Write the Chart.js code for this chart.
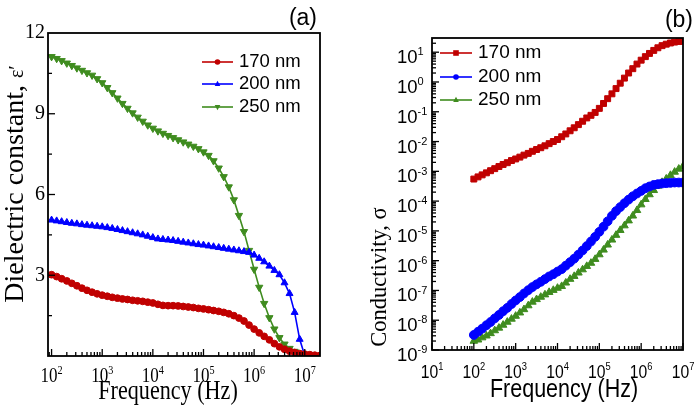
<!DOCTYPE html>
<html>
<head>
<meta charset="utf-8">
<script src="https://cdn.jsdelivr.net/npm/chart.js@4.4.1/dist/chart.umd.min.js"></script>
<style>
  html, body { margin: 0; padding: 0; background: #fff; }
  #wrap { position: relative; width: 700px; height: 409px; }
  canvas { position: absolute; top: 0; }
  #chartA { left: 0; }
  #chartB { left: 350px; }
</style>
</head>
<body>
<div id="wrap">
  <canvas id="chartA" width="350" height="409"></canvas>
  <canvas id="chartB" width="350" height="409"></canvas>
</div>
<script>
// measurement frequencies (Hz), 10 points per decade
const freq = [
  1e2, 1.26e2, 1.58e2, 2e2, 2.51e2, 3.16e2, 3.98e2, 5.01e2, 6.31e2, 7.94e2,
  1e3, 1.26e3, 1.58e3, 2e3, 2.51e3, 3.16e3, 3.98e3, 5.01e3, 6.31e3, 7.94e3,
  1e4, 1.26e4, 1.58e4, 2e4, 2.51e4, 3.16e4, 3.98e4, 5.01e4, 6.31e4, 7.94e4,
  1e5, 1.26e5, 1.58e5, 2e5, 2.51e5, 3.16e5, 3.98e5, 5.01e5, 6.31e5, 7.94e5,
  1e6, 1.26e6, 1.58e6, 2e6, 2.51e6, 3.16e6, 3.98e6, 5.01e6, 6.31e6, 7.94e6,
  1e7, 1.26e7, 1.58e7, 2e7
];

const seriesLabels = ['170 nm', '200 nm', '250 nm'];

// (a) dielectric constant
const eps170 = [
  3.02, 2.95, 2.87, 2.79, 2.70, 2.61, 2.52, 2.44, 2.37, 2.31,
  2.26, 2.22, 2.18, 2.15, 2.12, 2.10, 2.07, 2.05, 2.03, 2.00,
  1.97, 1.92, 1.88, 1.87, 1.87, 1.86, 1.84, 1.82, 1.80, 1.77,
  1.75, 1.72, 1.69, 1.66, 1.62, 1.57, 1.50, 1.41, 1.30, 1.15,
  1.00, 0.86, 0.73, 0.60, 0.46, 0.34, 0.25, 0.18, 0.13, 0.09,
  0.07, 0.05, 0.03, 0.02
];
const eps200 = [
  5.05, 5.02, 4.99, 4.96, 4.93, 4.91, 4.88, 4.86, 4.84, 4.82,
  4.80, 4.77, 4.74, 4.70, 4.66, 4.62, 4.58, 4.54, 4.50, 4.45,
  4.40, 4.35, 4.33, 4.31, 4.29, 4.26, 4.23, 4.20, 4.17, 4.14,
  4.12, 4.09, 4.06, 4.03, 4.00, 3.97, 3.94, 3.91, 3.88, 3.85,
  3.75, 3.63, 3.50, 3.34, 3.18, 3.02, 2.72, 2.32, 1.62, 0.62,
  0.02
];
const eps250 = [
  11.12, 11.05, 10.97, 10.88, 10.79, 10.70, 10.61, 10.52, 10.43, 10.30,
  10.15, 9.97, 9.78, 9.58, 9.38, 9.20, 9.03, 8.87, 8.72, 8.58,
  8.46, 8.36, 8.27, 8.19, 8.11, 8.03, 7.95, 7.87, 7.79, 7.70,
  7.58, 7.45, 7.25, 6.98, 6.66, 6.28, 5.80, 5.22, 4.62, 3.92,
  3.22, 2.55, 1.95, 1.42, 1.00, 0.68, 0.44, 0.28, 0.17, 0.10,
  0.06
];

// (b) conductivity
const sig170 = [
  5.5e-4, 6.5e-4, 7.6e-4, 8.9e-4, 1.05e-3, 1.23e-3, 1.45e-3, 1.7e-3, 1.95e-3, 2.3e-3,
  2.6e-3, 3.0e-3, 3.5e-3, 4.0e-3, 4.7e-3, 5.4e-3, 6.2e-3, 7.2e-3, 8.5e-3, 1.0e-2,
  1.17e-2, 1.45e-2, 1.8e-2, 2.3e-2, 2.9e-2, 3.7e-2, 4.8e-2, 6.2e-2, 7.6e-2, 9.5e-2,
  0.13, 0.19, 0.275, 0.40, 0.60, 0.91, 1.35, 2.0, 2.8, 4.0,
  5.4, 7.1, 9.1, 11.5, 14.1, 16.6, 18.6, 20.4, 21.9, 22.9,
  23.4
];
const sig200 = [
  3.2e-9, 4.1e-9, 5.2e-9, 6.8e-9, 8.7e-9, 1.15e-8, 1.5e-8, 2.0e-8, 2.6e-8, 3.5e-8,
  4.6e-8, 6.0e-8, 7.9e-8, 1.02e-7, 1.3e-7, 1.6e-7, 1.95e-7, 2.4e-7, 2.95e-7, 3.5e-7,
  4.3e-7, 5.2e-7, 6.8e-7, 8.9e-7, 1.17e-6, 1.6e-6, 2.2e-6, 3.1e-6, 4.4e-6, 6.3e-6,
  9.3e-6, 1.38e-5, 2.1e-5, 3.2e-5, 4.6e-5, 6.3e-5, 8.5e-5, 1.12e-4, 1.45e-4, 1.8e-4,
  2.2e-4, 2.7e-4, 3.1e-4, 3.5e-4, 3.7e-4, 3.9e-4, 4.0e-4, 4.1e-4, 4.2e-4, 4.2e-4,
  4.2e-4
];
const sig250 = [
  2.0e-9, 2.2e-9, 2.6e-9, 3.0e-9, 3.6e-9, 4.5e-9, 5.5e-9, 6.9e-9, 8.7e-9, 1.1e-8,
  1.38e-8, 1.78e-8, 2.3e-8, 3.1e-8, 4.1e-8, 5.0e-8, 6.0e-8, 7.2e-8, 8.7e-8, 1.02e-7,
  1.2e-7, 1.38e-7, 1.8e-7, 2.4e-7, 3.0e-7, 3.9e-7, 5.0e-7, 6.5e-7, 8.3e-7, 1.12e-6,
  1.6e-6, 2.3e-6, 3.4e-6, 5.0e-6, 7.2e-6, 1.05e-5, 1.5e-5, 2.2e-5, 3.2e-5, 4.9e-5,
  7.6e-5, 1.15e-4, 1.66e-4, 2.3e-4, 3.2e-4, 4.3e-4, 5.6e-4, 7.4e-4, 9.5e-4, 1.2e-3,
  1.48e-3
];

// tick labels
const epsTicks = [3, 6, 9, 12];
const freqDecadesA = [2, 3, 4, 5, 6, 7];
const freqDecadesB = [1, 2, 3, 4, 5, 6, 7];
const sigDecades = [1, 0, -1, -2, -3, -4, -5, -6, -7, -8, -9];

const RED = '#c00000', BLUE = '#0000ff', GREEN = '#3f8c1f';
const SERIF = '"Liberation Serif", "Times New Roman", serif';
const SANS = '"Liberation Sans", Arial, sans-serif';

function pts(vals) {
  return vals.map((v, i) => ({ x: freq[i], y: v }));
}

function txt(ctx, s, x, y, font, align, base, sx) {
  ctx.save();
  ctx.translate(x, y);
  ctx.scale(sx || 1, 1);
  ctx.font = font;
  ctx.textAlign = align;
  ctx.textBaseline = base;
  ctx.fillText(s, 0, 0);
  ctx.restore();
}

// "10" with a raised exponent
function pow10(ctx, exp, x, y, size, fam, sx, align) {
  ctx.save();
  ctx.font = size + 'px ' + fam;
  const w1 = ctx.measureText('10').width * sx;
  const small = Math.round(size * 0.62);
  ctx.font = small + 'px ' + fam;
  const w2 = ctx.measureText(String(exp)).width * sx;
  let x0 = x;
  if (align === 'center') x0 = x - (w1 + w2) / 2;
  if (align === 'right') x0 = x - (w1 + w2);
  ctx.fillStyle = '#000';
  txt(ctx, '10', x0, y, size + 'px ' + fam, 'left', 'alphabetic', sx);
  txt(ctx, String(exp), x0 + w1, y - size * 0.42, small + 'px ' + fam, 'left', 'alphabetic', sx);
  ctx.restore();
}

function logMinors(decades, min, max) {
  const out = [];
  for (let d = decades[0] - 1; d <= decades[decades.length - 1]; d++) {
    for (let k = 2; k <= 9; k++) {
      const v = k * Math.pow(10, d);
      if (v > min && v < max) out.push(v);
    }
  }
  return out;
}

function marker(ctx, style, x, y, r, color) {
  ctx.save();
  ctx.fillStyle = color;
  ctx.beginPath();
  if (style === 'circle') {
    ctx.arc(x, y, r, 0, Math.PI * 2);
  } else if (style === 'rect') {
    ctx.rect(x - r, y - r, 2 * r, 2 * r);
  } else if (style === 'triUp') {
    ctx.moveTo(x, y - r * 1.2); ctx.lineTo(x + r, y + r * 0.7); ctx.lineTo(x - r, y + r * 0.7);
  } else {
    ctx.moveTo(x, y + r * 1.2); ctx.lineTo(x + r, y - r * 0.7); ctx.lineTo(x - r, y - r * 0.7);
  }
  ctx.closePath();
  ctx.fill();
  ctx.restore();
}

function makeDecor(cfg) {
  return {
    id: 'decor',
    afterDraw(chart) {
      const ctx = chart.ctx;
      const a = chart.chartArea;
      const xs = chart.scales.x, ys = chart.scales.y;
      ctx.save();
      ctx.strokeStyle = '#000';
      ctx.fillStyle = '#000';
      ctx.lineWidth = 1.3;

      // inward ticks
      const seg = (x1, y1, x2, y2) => { ctx.beginPath(); ctx.moveTo(x1, y1); ctx.lineTo(x2, y2); ctx.stroke(); };
      cfg.xMajor.forEach(v => { const p = xs.getPixelForValue(v); seg(p, a.bottom, p, a.bottom - 7); });
      cfg.xMinor.forEach(v => { const p = xs.getPixelForValue(v); seg(p, a.bottom, p, a.bottom - 4); });
      cfg.yMajor.forEach(v => { const p = ys.getPixelForValue(v); seg(a.left, p, a.left + 7, p); });
      cfg.yMinor.forEach(v => { const p = ys.getPixelForValue(v); seg(a.left, p, a.left + 4, p); });

      // frame
      ctx.lineWidth = 1.8;
      ctx.strokeRect(a.left, a.top, a.right - a.left, a.bottom - a.top);

      // tick labels
      cfg.xLabels.forEach(d => {
        pow10(ctx, d, xs.getPixelForValue(Math.pow(10, d)), cfg.xLabelBase, cfg.tickSize, cfg.tickFont, cfg.tickSx, 'center');
      });
      cfg.yLabels.forEach(lab => {
        const p = ys.getPixelForValue(lab.v);
        if (lab.exp !== undefined) {
          pow10(ctx, lab.exp, cfg.yLabelX, p + 11, cfg.tickSize, cfg.tickFont, 1, 'left');
        } else {
          txt(ctx, String(lab.v), cfg.yLabelX, p, cfg.tickSize + 'px ' + cfg.tickFont, 'right', 'middle', 1);
        }
      });

      // axis titles
      const xt = cfg.xTitle;
      txt(ctx, xt.text, xt.x, xt.y, xt.size + 'px ' + xt.font, 'center', 'alphabetic', xt.sx);

      const yt = cfg.yTitle;
      ctx.save();
      ctx.translate(yt.x, yt.y);
      ctx.rotate(-Math.PI / 2);
      ctx.font = yt.size + 'px ' + yt.font;
      const wMain = ctx.measureText(yt.text).width;
      let wTail = 0;
      if (yt.tail) {
        ctx.font = yt.tailSize + 'px ' + yt.font;
        wTail = ctx.measureText(yt.tail).width;
      }
      const start = -(wMain + wTail) / 2;
      ctx.textBaseline = 'alphabetic';
      ctx.textAlign = 'left';
      ctx.font = yt.size + 'px ' + yt.font;
      ctx.fillText(yt.text, start, yt.base);
      if (yt.tail) {
        ctx.font = yt.tailSize + 'px ' + yt.font;
        ctx.fillText(yt.tail, start + wMain, yt.base);
      }
      ctx.restore();

      // legend
      const lg = cfg.legend;
      chart.data.datasets.forEach((ds, i) => {
        const y = lg.y[i];
        ctx.strokeStyle = ds.borderColor;
        ctx.lineWidth = 1.6;
        seg(lg.x1, y, lg.x2, y);
        marker(ctx, lg.markers[i], (lg.x1 + lg.x2) / 2, y, 2.8, ds.borderColor);
        ctx.fillStyle = '#000';
        txt(ctx, ds.label, lg.x2 + 6, y, lg.size + 'px ' + SANS, 'left', 'middle', 1);
      });

      // panel label
      txt(ctx, cfg.panel.text, cfg.panel.x, cfg.panel.y, '23px ' + SANS, 'right', 'middle', 1);
      ctx.restore();
    }
  };
}

function lineSet(label, data, color, style, rot, r) {
  return {
    label: label,
    data: data,
    borderColor: color,
    backgroundColor: color,
    borderWidth: 1.6,
    pointStyle: style,
    pointRotation: rot,
    pointRadius: r,
    pointBorderWidth: 1,
    pointBackgroundColor: color,
    pointBorderColor: color,
    tension: 0
  };
}

const common = {
  responsive: false,
  animation: false,
  devicePixelRatio: 1,
  events: [],
  plugins: { legend: { display: false }, tooltip: { enabled: false } }
};

// ---------- (a) ----------
const xMinA = 85, xMaxA = 2e7;
new Chart(document.getElementById('chartA'), {
  type: 'line',
  data: {
    datasets: [
      lineSet(seriesLabels[0], pts(eps170), RED, 'circle', 0, 3.4),
      lineSet(seriesLabels[1], pts(eps200), BLUE, 'triangle', 0, 4),
      lineSet(seriesLabels[2], pts(eps250), GREEN, 'triangle', 180, 4.2)
    ]
  },
  options: Object.assign({}, common, {
    layout: { padding: { left: 48, right: 30, top: 33, bottom: 53 } },
    scales: {
      x: { type: 'logarithmic', min: xMinA, max: xMaxA, display: false },
      y: { type: 'linear', min: 0, max: 12, display: false }
    }
  }),
  plugins: [makeDecor({
    xMajor: freqDecadesA.map(d => Math.pow(10, d)),
    xMinor: logMinors(freqDecadesA, xMinA, xMaxA),
    yMajor: [3, 6, 9],
    yMinor: [1.5, 4.5, 7.5, 10.5],
    xLabels: freqDecadesA,
    xLabelBase: 382,
    yLabels: epsTicks.map(v => ({ v: v })),
    yLabelX: 45,
    tickSize: 20, tickFont: SERIF, tickSx: 0.85,
    xTitle: { text: 'Frequency (Hz)', x: 168, y: 399, size: 27, font: SERIF, sx: 0.82 },
    yTitle: { text: 'Dielectric constant, ', tail: 'ε′', tailSize: 20, x: 14, y: 184, size: 28, font: SERIF, base: 9 },
    legend: { x1: 202, x2: 233, y: [62, 84, 107], size: 18.5, markers: ['circle', 'triUp', 'triDown'] },
    panel: { text: '(a)', x: 317, y: 19 }
  })]
});

// ---------- (b) ----------
const xMinB = 10, xMaxB = 1e7, yMinB = 1e-9, yMaxB = 30;
new Chart(document.getElementById('chartB'), {
  type: 'line',
  data: {
    datasets: [
      lineSet(seriesLabels[0], pts(sig170), RED, 'rect', 0, 4.2),
      lineSet(seriesLabels[1], pts(sig200), BLUE, 'circle', 0, 4.4),
      lineSet(seriesLabels[2], pts(sig250), GREEN, 'triangle', 0, 4.4)
    ]
  },
  options: Object.assign({}, common, {
    layout: { padding: { left: 82, right: 17, top: 38, bottom: 59 } },
    scales: {
      x: { type: 'logarithmic', min: xMinB, max: xMaxB, display: false },
      y: { type: 'logarithmic', min: yMinB, max: yMaxB, display: false }
    }
  }),
  plugins: [makeDecor({
    xMajor: freqDecadesB.map(d => Math.pow(10, d)),
    xMinor: logMinors(freqDecadesB, xMinB, xMaxB),
    yMajor: sigDecades.map(d => Math.pow(10, d)),
    yMinor: logMinors([-9, 1], yMinB, yMaxB),
    xLabels: freqDecadesB,
    xLabelBase: 378,
    yLabels: sigDecades.map(d => ({ v: Math.pow(10, d), exp: d })),
    yLabelX: 47,
    tickSize: 18.5, tickFont: SANS, tickSx: 0.85,
    xTitle: { text: 'Frequency (Hz)', x: 214, y: 397, size: 25, font: SANS, sx: 0.86 },
    yTitle: { text: 'Conductivity, σ', x: 29, y: 277, size: 22.5, font: SERIF, base: 7 },
    legend: { x1: 90, x2: 122, y: [53, 77, 100], size: 19, markers: ['rect', 'circle', 'triUp'] },
    panel: { text: '(b)', x: 343, y: 21 }
  })]
});
</script>
</body>
</html>
